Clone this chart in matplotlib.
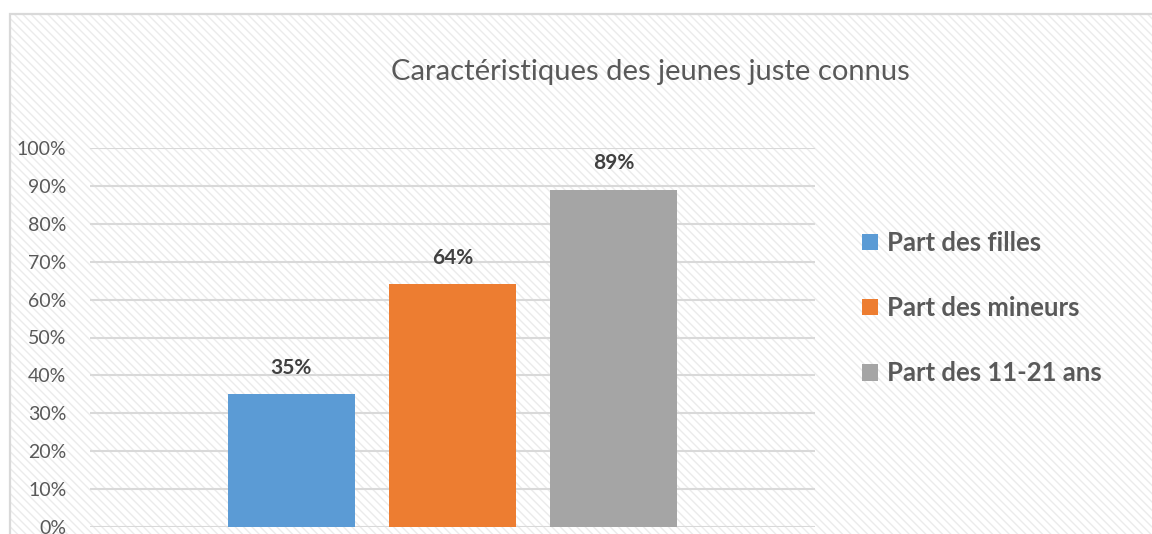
import matplotlib
matplotlib.use("Agg")
import matplotlib.pyplot as plt
from matplotlib.patches import Rectangle, Patch
import matplotlib as mpl

series = ["Part des filles", "Part des mineurs", "Part des 11-21 ans"]
values = [0.35, 0.64, 0.89]
colors = ["#5B9BD5", "#ED7D31", "#A5A5A5"]
yticks = [0, 0.1, 0.2, 0.3, 0.4, 0.5, 0.6, 0.7, 0.8, 0.9, 1.0]
ytick_labels = ["0%", "10%", "20%", "30%", "40%", "50%", "60%", "70%", "80%", "90%", "100%"]
title = "Caractéristiques des jeunes juste connus"

mpl.rcParams['hatch.linewidth'] = 1.0
plt.rcParams['font.family'] = ['Lato', 'DejaVu Sans']

W, H = 1152, 534
fig = plt.figure(figsize=(W/100, H/100), dpi=100)
fig.patch.set_facecolor('white')

# chart area with diagonal hatch
bg = Rectangle((10/W, 0), 1.2, (H-14)/H, transform=fig.transFigure,
               facecolor='white', edgecolor='#ebebeb', linewidth=0, hatch='\\\\\\\\', zorder=-5)
fig.patches.append(bg)
frame = Rectangle((10/W, -0.1), 1.2, (H-14)/H + 0.1, transform=fig.transFigure,
                  facecolor='none', edgecolor='#d9d9d9', linewidth=1.6, zorder=-4)
fig.patches.append(frame)

ax = fig.add_axes([90/W, 7/H, (815-90)/W, (527-148)/H])
ax.set_zorder(2)
ax.patch.set_alpha(0)
x = list(range(len(series)))
bars = ax.bar(x, values, width=127/161, color=colors, zorder=3)
ax.set_xlim(1-2.25, 1+2.25)
ax.set_ylim(0, 1.0)
ax.set_yticks(yticks)
ax.set_yticklabels(ytick_labels, fontsize=14, color='#595959')
ax.set_xticks([])
ax.tick_params(axis='y', length=0, pad=17)
for s in ax.spines.values():
    s.set_visible(False)
ax.yaxis.grid(True, color='#d9d9d9', linewidth=1.5, zorder=1)
ax.set_axisbelow(True)

for xi, v in zip(x, values):
    ax.annotate(f"{round(v*100)}%", (xi, v), xytext=(0, 12), textcoords='offset points',
                ha='center', va='bottom', fontsize=15, fontweight='bold', color='#404040')

fig.text(650/W, 1 - 72/H, title, ha='center', va='center', fontsize=21, color='#595959')

handles = [Patch(facecolor=c, edgecolor='none') for c in colors]
leg = fig.legend(handles, series, loc='upper left', bbox_to_anchor=(862/W, 1 - 231/H),
                 frameon=False, fontsize=18.5, labelspacing=1.6, handlelength=0.62,
                 handleheight=0.62, handletextpad=0.35, borderaxespad=0, borderpad=0)
leg.set_zorder(3)
for t in leg.get_texts():
    t.set_fontweight('bold')
    t.set_color('#595959')

fig.savefig("out.png", dpi=100)
